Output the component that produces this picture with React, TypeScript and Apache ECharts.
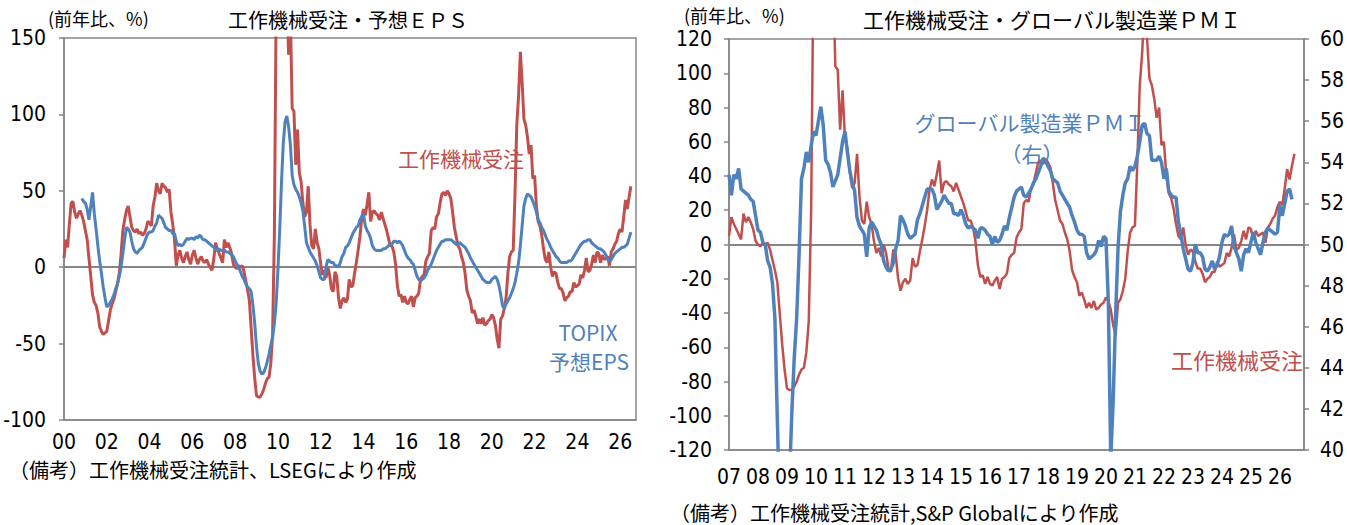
import React, { useEffect, useRef } from 'react';
import * as echarts from 'echarts';

// ---- Data (monthly, start year 2000, month index 0 = Jan 2000) ----
const START_YEAR = 2000;

// 工作機械受注 (前年比, %) : Jan 2000 -> Jul 2026
const ORDERS_START_MONTH = 0;
const orders: number[] = [
  // 2000
  6, 18, 13, 28, 42, 43, 36, 32, 35, 37, 34, 30,
  // 2001
  24, 18, 6, -6, -18, -23, -25, -30, -39, -42, -44, -43,
  // 2002
  -42, -35, -28, -24, -21, -16, -11, -4, 8, 24, 31, 37,
  // 2003
  40, 33, 26, 24, 23, 25, 22, 23, 21, 22, 25, 30,
  // 2004
  29, 27, 40, 46, 55, 50, 48, 55, 53, 52, 49, 51,
  // 2005
  36, 28, 18, 1, 8, 11, 6, 3, 7, 10, 5, 2,
  // 2006
  8, 11, 6, 2, 5, 7, 4, 3, 5, 2, 0, -2,
  // 2007
  5, 16, 12, 9, 6, 3, 18, 13, 16, 13, 9, 2,
  // 2008
  0, -1, 1, 0, 1, -3, -9, -15, -22, -40, -58, -73,
  // 2009
  -84, -85, -85, -83, -80, -76, -73, -72, -63, -45, 20, 170,
  // 2010
  220, 250, 200, 230, 260, 180, 139, 165, 104, 102, 67, 90,
  // 2011
  62, 56, 42, 33, 36, 53, 28, 14, 12, 25, 16, 12,
  // 2012
  2, -5, -2, -7, 0, -5, -14, -16, -3, -6, -20, -27,
  // 2013
  -22, -20, -23, -21, -8, -13, -12, -4, 3, 11, 20, 32,
  // 2014
  38, 34, 41, 49, 30, 36, 37, 35, 34, 31, 36, 32,
  // 2015
  28, 24, 19, 14, 14, 10, 2, -12, -19, -18, -23, -19,
  // 2016
  -23, -24, -21, -19, -26, -20, -19, -17, -8, -6, -5, 4,
  // 2017
  7, 9, 24, 26, 25, 33, 35, 42, 48, 49, 47, 50,
  // 2018
  48, 45, 36, 26, 20, 14, 12, 7, 3, -4, -15, -19,
  // 2019
  -22, -30, -28, -32, -37, -34, -37, -33, -38, -37, -35, -34,
  // 2020
  -31, -33, -38, -47, -53, -34, -32, -27, -20, -4, 7, 10,
  // 2021
  11, 48, 93, 112, 141, 121, 97, 93, 85, 74, 80, 58,
  // 2022
  60, 40, 30, 27, 21, 12, 5, 3, 10, 0, -6, -3,
  // 2023
  -4, -10, -14, -14, -17, -22, -20, -19, -16, -16, -10, -13,
  // 2024
  -12, -11, -5, -7, -2, 6, -3, -2, 2, 8, 3, 10,
  // 2025
  9, 3, 8, 5, 6, 7, 1, 10, 12, 15, 17, 22,
  // 2026
  25, 23, 33, 44, 38, 46, 53,
];

// TOPIX 予想EPS (前年比, %) : Nov 2000 -> Jul 2026
const EPS_START_MONTH = 10;
const eps: number[] = [
  45, 43,
  42, 38, 31, 40, 49, 35, 25, 14, 4, -4, -13, -20,
  -26, -25, -23, -21, -18, -14, -11, -6, 0, 9, 18, 26,
  25, 23, 17, 12, 10, 9, 11, 12, 13, 16, 19, 22,
  23, 23, 24, 27, 29, 34, 33, 32, 29, 26, 25, 24,
  24, 22, 22, 17, 14, 15, 14, 15, 17, 19, 18, 19,
  19, 18, 20, 19, 21, 20, 18, 18, 17, 16, 15, 14,
  13, 12, 11, 12, 11, 11, 11, 10, 10, 9, 8, 7,
  4, 2, 0, -3, -6, -8, -11, -13, -14, -16, -25, -37,
  -52, -63, -68, -70, -69, -66, -62, -57, -51, -46, -37, -24,
  -2, 24, 55, 81, 95, 99, 92, 80, 60, 54, 51, 49,
  46, 42, 37, 27, 16, 13, 10, 8, 6, 4, 1, -3,
  -7, -8, -8, 0, 5, 4, 3, 3, 1, 1, 0, 3,
  7, 9, 13, 14, 16, 19, 22, 24, 26, 27, 31, 33,
  35, 27, 24, 22, 19, 14, 12, 11, 11, 11, 11, 12,
  12, 13, 14, 15, 15, 17, 17, 16, 17, 16, 14, 11,
  8, 6, 5, 3, 2, -2, -6, -8, -9, -8, -7, -5,
  -2, 0, 2, 5, 8, 11, 13, 15, 17, 17, 18, 18,
  18, 18, 17, 16, 15, 15, 16, 15, 14, 13, 11, 9,
  6, 4, 2, 0, -2, -4, -6, -8, -9, -10, -10, -10,
  -8, -7, -6, -8, -12, -18, -25, -27, -24, -22, -20, -17,
  -14, -10, -4, 3, 14, 27, 40, 45, 48, 47, 46, 43,
  40, 36, 31, 29, 26, 24, 21, 18, 16, 13, 11, 9,
  7, 6, 4, 3, 3, 3, 3, 4, 4, 5, 7, 9,
  11, 13, 15, 16, 17, 17, 18, 18, 16, 15, 14, 13,
  12, 12, 11, 10, 8, 5, 4, 5, 7, 9, 10, 11,
  12, 13, 13, 14, 15, 19, 23,
];

// グローバル製造業PMI : Jan 2007 -> Jun 2026
const PMI_START_MONTH = 84;
const pmi: number[] = [
  53.4, 52.4, 53.4, 53.2, 53.7, 52.7, 52.6, 52.5, 52.4, 52.2, 52.1, 51.4,
  50.7, 50.6, 50.1, 50.0, 49.2, 48.9, 48.1, 46.4, 41.5, 37.0, 34.0, 35.0,
  35.5, 38.5, 41.8, 44.5, 46.4, 49.5, 53.2, 53.7, 54.5, 54.0, 54.8, 55.5,
  55.3, 56.0, 56.7, 55.8, 54.1, 53.9, 53.5, 52.8, 53.1, 53.4, 54.2, 55.0,
  55.5, 54.5, 53.6, 53.0, 52.6, 51.3, 50.9, 50.7, 50.5, 49.4, 50.8, 51.1,
  50.9, 50.7, 50.3, 50.0, 49.2, 48.9, 48.7, 48.8, 49.1, 49.8, 50.2, 51.4,
  51.2, 50.9, 50.5, 50.3, 50.4, 50.5, 51.2, 51.5, 51.9, 52.3, 52.7, 52.7,
  52.7, 52.4, 51.7, 51.9, 52.1, 52.4, 52.2, 52.0, 52.0, 51.5, 51.5, 51.4,
  51.7, 51.4, 51.0, 50.8, 50.9, 50.8, 50.7, 50.3, 50.8, 50.8, 50.7, 50.5,
  50.4, 50.0, 50.4, 50.1, 50.2, 50.5, 50.9, 50.7, 51.3, 51.8, 52.3, 52.6,
  52.7, 52.8, 52.4, 52.3, 52.5, 52.7, 53.0, 53.2, 53.5, 53.8, 54.2, 54.1,
  53.8, 53.6, 53.2, 53.1, 53.0, 52.6, 52.4, 52.2, 52.0, 51.8, 51.4, 51.1,
  50.7, 50.5, 50.5, 50.4, 49.6, 49.3, 49.4, 49.5, 49.7, 50.2, 49.9, 50.4,
  50.3, 47.2, 39.6, 42.4, 46.5, 49.8, 51.6, 52.4, 53.0, 53.2, 53.8, 53.6,
  53.8, 54.3, 55.0, 55.8, 55.9, 55.4, 55.3, 54.1, 54.1, 54.1, 54.3, 54.0,
  53.2, 53.7, 52.6, 52.4, 52.3, 52.3, 51.1, 50.5, 49.8, 49.3, 48.8, 48.7,
  49.1, 50.0, 49.6, 49.6, 49.4, 48.8, 48.7, 48.9, 49.2, 48.8, 49.0, 49.4,
  50.1, 50.5, 50.4, 50.5, 50.9, 49.9, 49.6, 49.3, 48.7, 49.5, 49.8, 49.6,
  50.1, 50.6, 50.1, 49.8, 49.5, 50.1, 50.6, 50.8, 50.7, 50.6, 50.5, 50.6,
  51.9, 51.4, 52.0, 52.6, 52.7, 52.2,
];

// Right panel starts at Jan 2007
const RIGHT_START_MONTH = 84;

// Axis ranges / ticks
const leftYearRange = [2000, 2026.74];
const rightYearRange = [2007, 2026.83];
const leftYRange = [-100, 150, 50];
const rightYRange = [-120, 120, 20];
const pmiRange = [40, 60, 2];

const RED = '#C0504D';
const BLUE = '#4F81BD';
const AXIS = '#868686';
const NUM_FONT = "'Liberation Sans Narrow','DejaVu Sans Condensed','Arial Narrow','Noto Sans CJK JP',sans-serif";
const JP_FONT = "'Noto Sans CJK JP',sans-serif";

function toPairs(values: number[], startMonth: number): [number, number][] {
  return values.map((v, i) => [START_YEAR + (startMonth + i) / 12, v]);
}

const yearLabel = (v: number) =>
  Math.abs(v - Math.round(v)) < 1e-6 ? String(Math.round(v) % 100).padStart(2, '0') : '';

function jpText(text: string, x: number, y: number, size: number, color: string, align: string = 'center') {
  return {
    type: 'text',
    x,
    y,
    silent: true,
    style: {
      text,
      fill: color,
      font: `${size}px ${JP_FONT}`,
      textAlign: align,
      textVerticalAlign: 'middle',
    },
  };
}

export default function App() {
  const ref = useRef<HTMLDivElement>(null);

  useEffect(() => {
    document.body.style.margin = '0';
    const chart = echarts.init(ref.current as HTMLDivElement, null, { renderer: 'svg' });

    const numLabel = (margin: number) => ({
      color: '#000',
      fontSize: 21,
      fontFamily: NUM_FONT,
      margin,
    });

    const zeroLine = {
      silent: true,
      symbol: 'none',
      z: 1,
      label: { show: false },
      lineStyle: { color: AXIS, width: 2, type: 'solid' },
      data: [{ yAxis: 0 }],
    };

    const option: any = {
      animation: false,
      backgroundColor: '#fff',
      grid: [
        { left: 64, top: 38, width: 572, height: 382, show: true, borderColor: AXIS, borderWidth: 1.5, backgroundColor: 'transparent' },
        { left: 729, top: 39, width: 576, height: 411, show: true, borderColor: AXIS, borderWidth: 1.5, backgroundColor: 'transparent' },
      ],
      xAxis: [
        {
          type: 'value', gridIndex: 0, min: leftYearRange[0], max: leftYearRange[1], interval: 2,
          axisLine: { show: true, onZero: false, lineStyle: { color: AXIS, width: 1.5 } },
          axisTick: { show: false }, splitLine: { show: false },
          axisLabel: { ...numLabel(11), formatter: yearLabel },
        },
        {
          type: 'value', gridIndex: 1, min: rightYearRange[0], max: rightYearRange[1], interval: 1,
          axisLine: { show: true, onZero: false, lineStyle: { color: AXIS, width: 1.5 } },
          axisTick: { show: false }, splitLine: { show: false },
          axisLabel: { ...numLabel(16), formatter: yearLabel },
        },
      ],
      yAxis: [
        {
          type: 'value', gridIndex: 0, min: leftYRange[0], max: leftYRange[1], interval: leftYRange[2],
          axisLine: { show: true, onZero: false, lineStyle: { color: AXIS, width: 1.5 } },
          axisTick: { show: true, length: 5, lineStyle: { color: AXIS, width: 1.5 } },
          splitLine: { show: false },
          axisLabel: numLabel(18),
        },
        {
          type: 'value', gridIndex: 1, position: 'left', min: rightYRange[0], max: rightYRange[1], interval: rightYRange[2],
          axisLine: { show: true, onZero: false, lineStyle: { color: AXIS, width: 1.5 } },
          axisTick: { show: true, length: 5, lineStyle: { color: AXIS, width: 1.5 } },
          splitLine: { show: false },
          axisLabel: numLabel(17),
        },
        {
          type: 'value', gridIndex: 1, position: 'right', min: pmiRange[0], max: pmiRange[1], interval: pmiRange[2],
          axisLine: { show: true, onZero: false, lineStyle: { color: AXIS, width: 1.5 } },
          axisTick: { show: true, length: 5, lineStyle: { color: AXIS, width: 1.5 } },
          splitLine: { show: false },
          axisLabel: numLabel(16),
        },
      ],
      series: [
        {
          name: '工作機械受注', type: 'line', xAxisIndex: 0, yAxisIndex: 0,
          data: toPairs(orders, ORDERS_START_MONTH), showSymbol: false, symbol: 'none', z: 2,
          lineStyle: { color: RED, width: 3 }, markLine: zeroLine,
        },
        {
          name: 'TOPIX予想EPS', type: 'line', xAxisIndex: 0, yAxisIndex: 0,
          data: toPairs(eps, EPS_START_MONTH), showSymbol: false, symbol: 'none', z: 3,
          lineStyle: { color: BLUE, width: 3 },
        },
        {
          name: '工作機械受注(右図)', type: 'line', xAxisIndex: 1, yAxisIndex: 1,
          data: toPairs(orders.slice(RIGHT_START_MONTH - ORDERS_START_MONTH), RIGHT_START_MONTH),
          showSymbol: false, symbol: 'none', z: 2,
          lineStyle: { color: RED, width: 2.5 }, markLine: zeroLine,
        },
        {
          name: 'グローバル製造業PMI', type: 'line', xAxisIndex: 1, yAxisIndex: 2,
          data: toPairs(pmi, PMI_START_MONTH), showSymbol: false, symbol: 'none', z: 3,
          lineStyle: { color: BLUE, width: 3.5 },
        },
      ],
      graphic: [
        jpText('工作機械受注・予想ＥＰＳ', 348, 19, 20, '#000'),
        jpText('(前年比、%)', 48, 18, 18, '#000', 'left'),
        jpText('（備考）工作機械受注統計、LSEGにより作成', 9, 469, 20, '#000', 'left'),
        jpText('工作機械受注', 461, 158, 21, RED),
        jpText('TOPIX', 588, 332, 21, BLUE),
        jpText('予想EPS', 589, 361, 21, BLUE),
        jpText('工作機械受注・グローバル製造業ＰＭＩ', 1052, 19, 21, '#000'),
        jpText('(前年比、%)', 684, 15, 18, '#000', 'left'),
        jpText('グローバル製造業ＰＭＩ', 1030, 122, 21, BLUE),
        jpText('（右）', 1032, 153, 21, BLUE),
        jpText('工作機械受注', 1237, 359, 22, RED),
        jpText('（備考）工作機械受注統計,S&P Globalにより作成', 670, 512, 20, '#000', 'left'),
      ],
    };

    chart.setOption(option);
    return () => chart.dispose();
  }, []);

  return <div ref={ref} style={{ width: 1347, height: 525 }} />;
}
